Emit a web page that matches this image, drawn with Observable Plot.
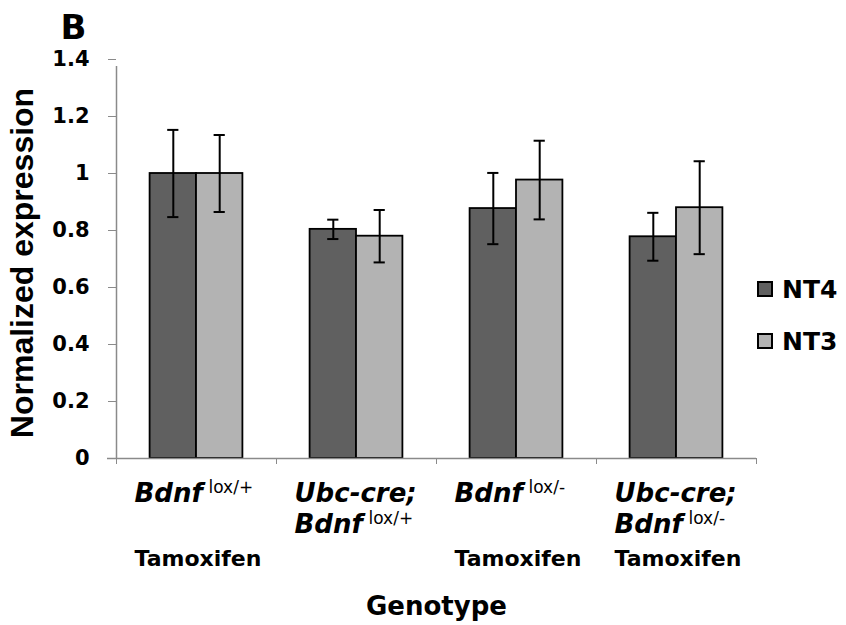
<!DOCTYPE html>
<html>
<head>
<meta charset="utf-8">
<script src="https://cdn.jsdelivr.net/npm/d3@7"></script>
<script src="https://cdn.jsdelivr.net/npm/@observablehq/plot@0.6"></script>
<style>
  html, body { margin: 0; padding: 0; background: white; }
  #wrap { position: relative; width: 846px; height: 625px; font-family: "DejaVu Sans", sans-serif; }
  .leg { position: absolute; display: flex; align-items: center; font-weight: bold; font-size: 25px; color: black; }
  .sw { width: 16px; height: 16px; border: 2px solid black; box-sizing: border-box; margin-right: 9px; }
</style>
</head>
<body>
<div id="wrap"></div>
<script>
// ---- data ----
const genotypes = ["Bdnf lox/+ Tamoxifen", "Ubc-cre; Bdnf lox/+", "Bdnf lox/- Tamoxifen", "Ubc-cre; Bdnf lox/- Tamoxifen"];
const series = ["NT4", "NT3"];
const seriesColors = ["#606060", "#b3b3b3"];
const nt4Mean = [1.0, 0.804, 0.877, 0.778];
const nt4Err  = [0.153, 0.034, 0.125, 0.084];
const nt3Mean = [1.0, 0.780, 0.977, 0.880];
const nt3Err  = [0.135, 0.092, 0.138, 0.163];
const yTicks = [0, 0.2, 0.4, 0.6, 0.8, 1, 1.2, 1.4];
const yTickLabels = ["0", "0.2", "0.4", "0.6", "0.8", "1", "1.2", "1.4"];
const yTitle = "Normalized expression";
const xTitle = "Genotype";
const panelLetter = "B";
// category label pieces: genotype index, text line, text
const labelItalic = [
  {g: 0, line: 1, text: "Bdnf"},
  {g: 1, line: 1, text: "Ubc-cre;"},
  {g: 1, line: 2, text: "Bdnf"},
  {g: 2, line: 1, text: "Bdnf"},
  {g: 3, line: 1, text: "Ubc-cre;"},
  {g: 3, line: 2, text: "Bdnf"}
];
const labelSup = [
  {g: 0, line: 1, text: "lox/+"},
  {g: 1, line: 2, text: "lox/+"},
  {g: 2, line: 1, text: "lox/-"},
  {g: 3, line: 2, text: "lox/-"}
];
const labelPlain = [
  {g: 0, line: 3, text: "Tamoxifen"},
  {g: 2, line: 3, text: "Tamoxifen"},
  {g: 3, line: 3, text: "Tamoxifen"}
];

// ---- build table ----
const rows = [];
genotypes.forEach((g, i) => {
  rows.push({gi: i, genotype: g, series: "NT4", s: 0, mean: nt4Mean[i], err: nt4Err[i]});
  rows.push({gi: i, genotype: g, series: "NT3", s: 1, mean: nt3Mean[i], err: nt3Err[i]});
});
const barW = 0.29;       // fraction of a category band per bar
const capHalf = 0.035;   // half width of error caps
const x1 = d => d.gi + 0.5 + (d.s === 0 ? -barW : 0);
const x2 = d => d.gi + 0.5 + (d.s === 0 ? 0 : barW);
const xc = d => (x1(d) + x2(d)) / 2;
const lineDy = {1: 43, 2: 74, 3: 107};
const labelDx = -62;
const supDx = 12;
const axisGray = "#8a8a8a";

const labelMarks = [];
[1, 2, 3].forEach(line => {
  const it = labelItalic.filter(d => d.line === line);
  const sp = labelSup.filter(d => d.line === line);
  const pl = labelPlain.filter(d => d.line === line);
  if (it.length) labelMarks.push(Plot.text(it, {x: d => d.g + 0.5, frameAnchor: "bottom", text: "text", textAnchor: "start", lineAnchor: "bottom",
      dx: labelDx, dy: lineDy[line], fontSize: 26, fontStyle: "italic", fontWeight: "bold", fill: "black"}));
  if (sp.length) labelMarks.push(Plot.text(sp, {x: d => d.g + 0.5, frameAnchor: "bottom", text: "text", textAnchor: "start", lineAnchor: "bottom",
      dx: supDx, dy: lineDy[line] - 9, fontSize: 17, fontWeight: "normal", fill: "black"}));
  if (pl.length) labelMarks.push(Plot.text(pl, {x: d => d.g + 0.5, frameAnchor: "bottom", text: "text", textAnchor: "start", lineAnchor: "bottom",
      dx: labelDx, dy: lineDy[line], fontSize: 22, fontWeight: "bold", fill: "black"}));
});

const chart = Plot.plot({
  width: 846,
  height: 625,
  marginLeft: 116,
  marginRight: 90,
  marginTop: 59,
  marginBottom: 167,
  x: {domain: [0, genotypes.length], axis: null},
  y: {domain: [0, 1.4], axis: null},
  color: {domain: series, range: seriesColors},
  style: {fontFamily: "DejaVu Sans", fontWeight: "bold", background: "white", overflow: "visible", color: "black"},
  marks: [
    // bars
    Plot.rectY(rows, {x1, x2, y1: 0, y2: "mean", fill: "series", stroke: "black", strokeWidth: 1.8}),
    // error bars
    Plot.ruleX(rows, {x: xc, y1: d => d.mean - d.err, y2: d => d.mean + d.err, stroke: "black", strokeWidth: 2}),
    Plot.ruleY(rows, {y: d => d.mean + d.err, x1: d => xc(d) - capHalf, x2: d => xc(d) + capHalf, stroke: "black", strokeWidth: 2}),
    Plot.ruleY(rows, {y: d => d.mean - d.err, x1: d => xc(d) - capHalf, x2: d => xc(d) + capHalf, stroke: "black", strokeWidth: 2}),
    // axes lines
    Plot.ruleX([0], {y1: 0, y2: 1.4, stroke: axisGray, strokeWidth: 1.5, insetBottom: -7}),
    Plot.ruleY([0], {x1: 0, x2: genotypes.length, stroke: axisGray, strokeWidth: 1.5, insetLeft: -9}),
    // y axis ticks
    Plot.axisY(yTicks, {tickSize: 8, stroke: axisGray, tickFormat: () => "", label: null}),
    // y tick labels
    Plot.text(yTicks, {y: d => d, frameAnchor: "left", textAnchor: "end", dx: -27,
      text: d => yTickLabels[yTicks.indexOf(d)], fontSize: 21, fontWeight: "bold", fill: "black"}),
    // x axis boundary ticks
    Plot.axisX(d3.range(genotypes.length + 1), {tickSize: 6, stroke: axisGray, tickFormat: () => "", label: null}),
    // category labels
    ...labelMarks,
    // titles
    Plot.text([xTitle], {frameAnchor: "bottom", textAnchor: "middle", lineAnchor: "bottom", dy: 156, fontSize: 26, fontWeight: "bold", fill: "black"}),
    Plot.text([yTitle], {frameAnchor: "left", rotate: -90, textAnchor: "middle", dx: -94, dy: 4, fontSize: 32, fontFamily: "Liberation Sans", fontWeight: "bold", fill: "black"}),
    Plot.text([panelLetter], {frameAnchor: "top-left", textAnchor: "start", lineAnchor: "bottom", dx: -56, dy: -21, fontSize: 34, fontWeight: "bold", fill: "black"})
  ]
});

const wrap = document.getElementById("wrap");
wrap.appendChild(chart);

// legend
const legendTops = [281, 333];
series.forEach((s, i) => {
  const item = document.createElement("div");
  item.className = "leg";
  item.style.left = "757px";
  item.style.top = (legendTops[i] - 3) + "px";
  item.style.height = "22px";
  const sw = document.createElement("div");
  sw.className = "sw";
  sw.style.background = seriesColors[i];
  const lab = document.createElement("span");
  lab.textContent = s;
  item.appendChild(sw);
  item.appendChild(lab);
  wrap.appendChild(item);
});
</script>
</body>
</html>
